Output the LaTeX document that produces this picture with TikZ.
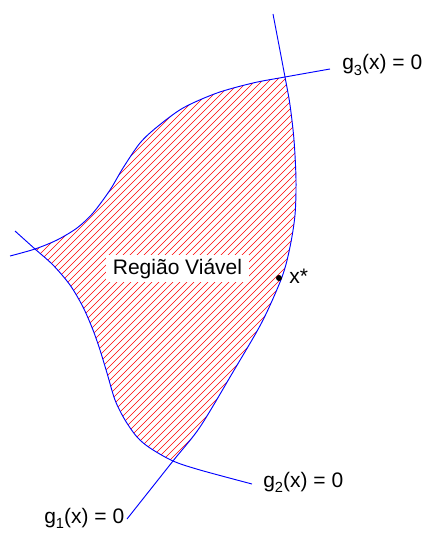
\documentclass[tikz,border=0pt]{standalone}
\usepackage{fontspec}
\setmainfont{Liberation Sans}

\newcommand{\gx}[1]{g\raisebox{-0.28em}{\fontsize{11}{11}\selectfont #1}(x) = 0}
% the three constraint curves, in picture pixels
\newcommand{\gonecurve}{plot[smooth] coordinates {(127,519) (173,461) (200,427) (233,372) (262,322) (282,277) (290,247) (295,215) (296,180) (294,140) (290,105) (285,77) (273,14)}}
\newcommand{\gtwocurve}{plot[smooth] coordinates {(15,231) (35,249) (53,265) (70,285) (83,307) (93,330) (100,350) (107,373) (115,400) (125,420) (137,437) (150,448) (173,461) (200,470) (252,484)}}
\newcommand{\gthreecurve}{plot[smooth] coordinates {(10,256) (35,249) (57,240) (77,228) (93,213) (110,190) (123,168) (140,143) (157,127) (183,108) (217,93) (253,83) (285,77) (330,69)}}

\begin{document}
\begin{tikzpicture}[x=0.75pt,y=-0.75pt,
  every node/.style={font=\fontsize{15.75}{18}\selectfont},
  curve/.style={blue,line width=0.7pt},
  hatch/.style={red,line width=0.5pt},
  label/.style={anchor=base west,inner sep=0pt}]
  \useasboundingbox (0,0) rectangle (421,534);

  % hatching of the feasible region
  \begin{scope}
    \clip \gthreecurve -- (421,69) -- (421,534) -- (0,534) -- (0,256) -- cycle;
    \clip \gonecurve -- (273,0) -- (0,0) -- (0,534) -- (127,534) -- cycle;
    \clip \gtwocurve -- (421,484) -- (421,0) -- (15,0) -- cycle;
    \foreach \c in {0,7,...,960}
      \draw[hatch] (\c,0) -- (\c-534,534);
  \end{scope}

  % constraints
  \draw[curve] \gonecurve;
  \draw[curve] \gtwocurve;
  \draw[curve] \gthreecurve;

  \node[fill=white,anchor=base,inner xsep=5pt,inner ysep=2.6pt] (regiao) at (177.5,274.3) {Região Viável};

  \coordinate (xstar) at (279,278);
  \fill (xstar) circle (3);
  \node[label] (xlab) at (289,283) {x*};

  \node[label] (g3lab) at (342,70) {\gx{3}};
  \node[label] (g2lab) at (263,487) {\gx{2}};
  \node[label] (g1lab) at (44,523) {\gx{1}};
\end{tikzpicture}
\end{document}
